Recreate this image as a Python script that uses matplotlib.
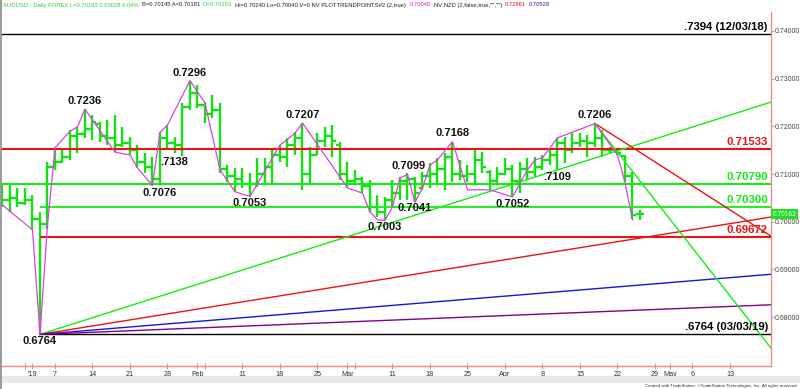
#Grafico diario AUDUSD con barras OHLC, niveles y lineas de tendencia.
import matplotlib
matplotlib.use("Agg")
import matplotlib.pyplot as plt
from matplotlib.lines import Line2D
from matplotlib.patches import Rectangle
import pandas as pd

plt.rcParams['font.family'] = ['Liberation Sans', 'DejaVu Sans']

# calendario de barras (dias habiles, sin el 1 de enero)
start_day = "2018-12-26"
end_day = "2019-05-24"
skip_days = ["2019-01-01"]

# barras diarias
highs = [.7077, .7077, .7071, .7071, .7056, .7021, .7125, .7155, .7151, .7193,
         .7199, .7236, .7224, .7209, .7213, .7224, .7199, .7178, .7161, .7144,
         .7136, .7188, .7203, .7178, .7249, .7296, .7286, .7251, .7266, .7249,
         .7119, .7113, .7113, .7102, .7134, .7134, .7155, .7161, .7176, .7188,
         .7207, .7157, .7186, .7199, .7203, .7167, .7125, .7109, .7094, .7088,
         .7056, .7052, .7088, .7094, .7102, .7094, .7104, .7123, .7134, .7144,
         .7168, .7130, .7119, .7151, .7146, .7109, .7115, .7134, .7119, .7125,
         .7134, .7136, .7140, .7151, .7176, .7178, .7186, .7186, .7182, .7206,
         .7192, .7157, .7155, .7140, .7104, .7024]
lows = [.7031, .7021, .7031, .7035, .6983, .6764, .6985, .7109, .7123, .7130,
        .7144, .7176, .7171, .7167, .7161, .7146, .7157, .7140, .7113, .7102,
        .7076, .7078, .7155, .7144, .7138, .7234, .7238, .7207, .7218, .7102,
        .7083, .7063, .7071, .7053, .7073, .7081, .7077, .7125, .7115, .7140,
        .7067, .7081, .7140, .7157, .7136, .7088, .7071, .7077, .7060, .7021,
        .7010, .7003, .7031, .7046, .7046, .7041, .7067, .7071, .7081, .7067,
        .7083, .7088, .7083, .7081, .7102, .7067, .7081, .7098, .7052, .7060,
        .7088, .7094, .7109, .7119, .7109, .7123, .7144, .7157, .7136, .7157,
        .7136, .7144, .7140, .7083, .7006, .7004]
opens = [.7060, .7045, .7050, .7040, .7045, .7005, .6995, .7115, .7125, .7135,
         .7180, .7185, .7195, .7205, .7180, .7175, .7160, .7165, .7150, .7125,
         .7115, .7090, .7175, .7165, .7160, .7240, .7270, .7245, .7225, .7235,
         .7110, .7095, .7090, .7080, .7080, .7100, .7115, .7140, .7135, .7160,
         .7175, .7100, .7140, .7170, .7180, .7160, .7100, .7085, .7090, .7075,
         .7030, .7020, .7045, .7060, .7085, .7090, .7070, .7095, .7100, .7110,
         .7135, .7100, .7095, .7100, .7130, .7105, .7085, .7100, .7110, .7085,
         .7110, .7105, .7115, .7130, .7140, .7165, .7150, .7165, .7170, .7165,
         .7175, .7150, .7150, .7138, .7095, .70153]
closes = [.7045, .7050, .7040, .7045, .7005, .6995, .7115, .7125, .7135, .7180,
          .7185, .7195, .7210, .7180, .7175, .7160, .7165, .7150, .7125, .7115,
          .7090, .7175, .7165, .7160, .7240, .7270, .7245, .7225, .7235, .7110,
          .7095, .7090, .7080, .7080, .7100, .7115, .7140, .7135, .7160, .7175,
          .7100, .7140, .7170, .7180, .7170, .7100, .7085, .7090, .7075, .7030,
          .7020, .7045, .7060, .7085, .7090, .7060, .7095, .7100, .7110, .7135,
          .7100, .7095, .7100, .7130, .7115, .7085, .7100, .7110, .7085, .7110,
          .7105, .7115, .7130, .7140, .7165, .7150, .7165, .7170, .7165, .7175,
          .7150, .7150, .7145, .7095, .7015, .70163]

# linea magenta de puntos de giro (PLOTTRENDPOINTS)
swing_dates = ["2018-12-26", "2019-01-02", "2019-01-03", "2019-01-04", "2019-01-07",
               "2019-01-09", "2019-01-10", "2019-01-11", "2019-01-17", "2019-01-21",
               "2019-01-22", "2019-01-24", "2019-01-25", "2019-01-28", "2019-01-31",
               "2019-02-04", "2019-02-06", "2019-02-08", "2019-02-12", "2019-02-18",
               "2019-02-19", "2019-02-20", "2019-02-21", "2019-02-28", "2019-03-01",
               "2019-03-05", "2019-03-06", "2019-03-07", "2019-03-08", "2019-03-11",
               "2019-03-12", "2019-03-13", "2019-03-14", "2019-03-15", "2019-03-18",
               "2019-03-19", "2019-03-21", "2019-03-25", "2019-03-28", "2019-04-02",
               "2019-04-04", "2019-04-05", "2019-04-08", "2019-04-09", "2019-04-10",
               "2019-04-12", "2019-04-17", "2019-04-22", "2019-04-23", "2019-04-24"]
swing_prices = [0.7035, 0.6983, 0.6764, 0.6993, 0.7155, 0.7190, 0.7199, 0.7236, 0.7146, 0.7140,
                0.7113, 0.7076, 0.7188, 0.7203, 0.7296, 0.7249, 0.7109, 0.7063, 0.7053, 0.7161,
                0.7173, 0.7186, 0.7207, 0.7094, 0.7071, 0.7060, 0.7021, 0.7004, 0.7003, 0.7031,
                0.7092, 0.7099, 0.7041, 0.7071, 0.7119, 0.7130, 0.7168, 0.7067, 0.7067, 0.7052,
                0.7109, 0.7130, 0.7134, 0.7155, 0.7176, 0.7188, 0.7206, 0.7140, 0.7083, 0.7004]

# etiquetas de maximos y minimos
pivot_text = ["0.7236", "0.7296", ".7138", "0.7076", "0.7053", "0.7207", "0.7003",
              "0.7099", "0.7041", "0.7168", "0.7052", ".7109", "0.7206", "0.6764"]
pivot_dates = ["2019-01-11", "2019-01-31", "2019-01-30", "2019-01-24", "2019-02-12",
               "2019-02-21", "2019-03-08", "2019-03-13", "2019-03-14", "2019-03-21",
               "2019-04-02", "2019-04-08", "2019-04-17", "2019-01-03"]
pivot_prices = [0.7236, 0.7296, 0.7138, 0.7076, 0.7053, 0.7207, 0.7003,
                0.7099, 0.7041, 0.7168, 0.7052, 0.7109, 0.7206, 0.6764]

# niveles horizontales
level_prices = [0.7394, 0.71533, 0.70790, 0.70300, 0.69672, 0.6764]
level_text = [".7394 (12/03/18)", "0.71533", "0.70790", "0.70300", "0.69672", ".6764 (03/03/19)"]
level_start = ["2018-12-26", "2018-12-26", "2018-12-26", "2019-01-03", "2019-01-03", "2019-01-03"]

# lineas de tendencia: inicio y precio en el borde derecho
trend_start = ["2019-01-03", "2019-01-03", "2019-01-03", "2019-01-03", "2019-04-17", "2019-04-17"]
trend_from = [0.6764, 0.6764, 0.6764, 0.6764, 0.7206, 0.7206]
trend_to = [0.7251, 0.7010, 0.6890, 0.6826, 0.6970, 0.6735]

# eje x
xtick_dates = ["2018-12-31", "2019-01-02", "2019-01-07", "2019-01-14", "2019-01-21", "2019-01-28",
               "2019-02-01", "2019-02-04", "2019-02-11", "2019-02-18", "2019-02-25",
               "2019-03-01", "2019-03-04", "2019-03-11", "2019-03-18", "2019-03-25",
               "2019-04-01", "2019-04-08", "2019-04-15", "2019-04-22", "2019-04-29",
               "2019-05-01", "2019-05-06", "2019-05-13"]
xtick_text = ["", "'19", "7", "14", "21", "28", "Feb", "", "11", "18", "25",
              "Mar", "", "11", "18", "25", "Apr", "8", "15", "22", "29", "May", "6", "13"]
yticks = [0.68, 0.69, 0.70, 0.71, 0.72, 0.73, 0.74]

last_price = 0.70163

header = [("AUDUSD - Daily FOREX L=0.70163 0.00028 0.04%", "#33cc33"),
          ("B=0.70145 A=0.70181", "#222222"),
          ("O=0.70153", "#33cc33"),
          ("Hi=0.70240 Lo=0.70040 V=0 NV PLOTTRENDPOINTS#2 (2,true)", "#222222"),
          ("0.70040", "#cc22cc"),
          ("NV NZD (2,false,true,\"\",\"\")", "#222222"),
          ("0.72861", "#dd1111"),
          ("0.70528", "#2222cc")]

# ---------------------------------------------------------------
days = pd.bdate_range(start_day, end_day)
days = days[~days.isin(pd.to_datetime(skip_days))]
pos = {d: i for i, d in enumerate(days)}


def ix(s):
    return pos[pd.Timestamp(s)]


W, H = 800, 389
fig = plt.figure(figsize=(W / 100, H / 100), dpi=100)
ax = fig.add_axes([1 / W, 1 - 366 / H, 770 / W, 354 / H])
x_left, x_right = -0.2, 102.47
ax.set_xlim(x_left, x_right)
ax.set_ylim(0.66977, 0.74398)

green = '#14e014'
red = '#ee1111'
lgreen = '#11ee11'

# barras OHLC
n = len(highs)
xs = list(range(n))
ax.vlines(xs, lows, highs, color=green, lw=1.7, zorder=2)
ax.hlines(opens, [x - 0.5 for x in xs], xs, color=green, lw=1.7, zorder=2)
ax.hlines(closes, xs, [x + 0.5 for x in xs], color=green, lw=1.7, zorder=2)

# niveles
level_color = ['black', red, lgreen, lgreen, red, 'black']
level_lw = [1.0, 1.5, 1.5, 1.3, 1.5, 1.0]
for p, t, s, c, lw in zip(level_prices, level_text, level_start, level_color, level_lw):
    x0 = ix(s) if s != start_day else x_left
    ax.plot([x0, x_right], [p, p], color=c, lw=lw, zorder=3, solid_capstyle='butt')
    ax.annotate(t, xy=(x_right, p), xytext=(-3, 2), textcoords='offset pixels',
                ha='right', va='bottom', fontsize=8.2, fontweight='bold',
                color=c, zorder=6, annotation_clip=False)

# tendencias
trend_color = [lgreen, red, '#1515dd', '#800080', red, lgreen]
for s, a, b, c in zip(trend_start, trend_from, trend_to, trend_color):
    ax.plot([ix(s), x_right], [a, b], color=c, lw=1.0, zorder=3)

# linea magenta
ax.plot([ix(d) for d in swing_dates], swing_prices, color='#e040e0', lw=0.9, zorder=4)

# etiquetas de pivotes (desplazamiento en pixeles)
pivot_offset = [(0, 8), (0, 8), (-8.5, -6), (7.5, -7.5), (0, -6.5), (0, 8), (0, -7),
                (1.5, 8.6), (0, -6), (0, 8.7), (0, -7), (14.5, -7), (0, 8.3), (0, -6.6)]
for t, d, p, off in zip(pivot_text, pivot_dates, pivot_prices, pivot_offset):
    ax.annotate(t, xy=(ix(d), p), xytext=off, textcoords='offset pixels',
                ha='center', va='center', fontsize=8, fontweight='bold',
                color='#111111', zorder=6, annotation_clip=False)

# ejes
for sp in ['top', 'left']:
    ax.spines[sp].set_visible(False)
for sp in ['right', 'bottom']:
    ax.spines[sp].set_color('#f08c8c')
    ax.spines[sp].set_linewidth(1.0)

ax.yaxis.tick_right()
ax.set_yticks(yticks)
ax.set_yticklabels(["%.5f" % v for v in yticks])
ax.tick_params(axis='y', direction='out', length=2, width=0.6, color='#999999',
               labelsize=5, labelcolor='#444444', pad=1)
ax.set_xticks([ix(d) for d in xtick_dates])
ax.set_xticklabels(xtick_text)
ax.tick_params(axis='x', direction='inout', length=4, width=0.8, color='#f08c8c',
               labelsize=5.2, labelcolor='#333333', pad=1.5)

# recuadro del ultimo precio
ax.text(1.002, last_price, "%.5f" % last_price, transform=ax.get_yaxis_transform(),
        ha='left', va='center', fontsize=4.8, color='white', zorder=7,
        bbox=dict(boxstyle='square,pad=0.25', fc='#22dd22', ec='none'), clip_on=False)

# cabecera de colores
t = fig.text(3 / W, 1 - 5 / H, header[0][0], color=header[0][1], fontsize=4.2,
             ha='left', va='center')
for seg, col in header[1:]:
    t = ax.annotate(seg, xy=(1, 0.5), xycoords=t, xytext=(2.2, 0), textcoords='offset points',
                    ha='left', va='center', fontsize=4.2, color=col, annotation_clip=False)

# marco izquierdo, barra inferior y copyright
fig.add_artist(Line2D([0.6 / W, 0.6 / W], [0, 1], transform=fig.transFigure,
                      color='#8a8a8a', lw=1.2))
fig.add_artist(Rectangle((1 / W, 1 - 383 / H), 1 - 1 / W, 7 / H, transform=fig.transFigure,
                         fc='#e8e8e8', ec='none'))
fig.text(1 - 2 / W, 1 - 386 / H,
         "Created with TradeStation. \u00a9TradeStation Technologies, Inc. All rights reserved.",
         fontsize=3.2, color='#333333', ha='right', va='center')

fig.savefig("out.png", dpi=100)
